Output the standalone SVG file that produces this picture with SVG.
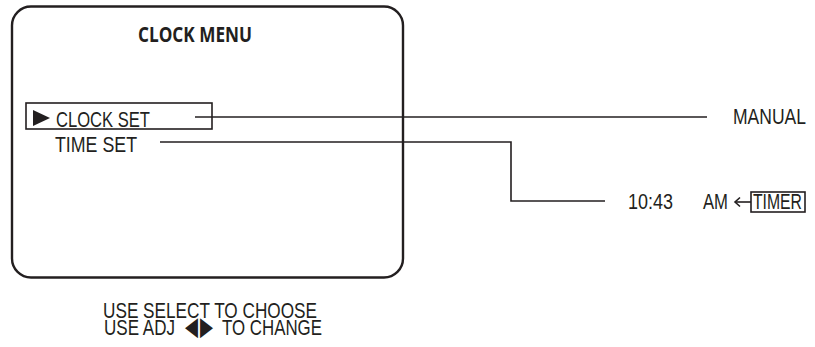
<svg xmlns="http://www.w3.org/2000/svg" width="815" height="347" viewBox="0 0 815 347">
<style>
.t{font-family:"Liberation Sans",Arial,sans-serif;font-size:22px;fill:#231f20}
.b{font-family:"Open Sans","Liberation Sans",sans-serif;font-weight:bold;font-size:20.5px;fill:#231f20}
.g{font-family:"DejaVu Sans",sans-serif;font-size:26px}
.ln{fill:none;stroke:#231f20;stroke-width:1.6}
</style>
<rect width="815" height="347" fill="#fff"/>
<g id="screen">
<rect x="12" y="6.5" width="391" height="271" rx="19" fill="none" stroke="#231f20" stroke-width="2.4"/>
<text class="b" x="138" y="42" textLength="114" lengthAdjust="spacingAndGlyphs">CLOCK MENU</text>
</g>
<g id="clock-set">
<rect x="26" y="103" width="186" height="26" fill="none" stroke="#231f20" stroke-width="1.6"/>
<polygon points="33,110 33,126 50,118" fill="#231f20"/>
<text class="t" x="56" y="126.5" font-size="23" textLength="94" lengthAdjust="spacingAndGlyphs">CLOCK SET</text>
</g>
<g id="time-set">
<text class="t" x="55" y="151.5" font-size="23" textLength="82" lengthAdjust="spacingAndGlyphs">TIME SET</text>
</g>
<g id="manual">
<text class="t" x="733" y="124" font-size="23" textLength="73" lengthAdjust="spacingAndGlyphs">MANUAL</text>
</g>
<g id="time-value">
<text class="t" x="628" y="209" font-size="21" textLength="45" lengthAdjust="spacingAndGlyphs">10:43</text>
<text class="t" x="703" y="209" font-size="21" textLength="25" lengthAdjust="spacingAndGlyphs">AM</text>
<line class="ln" x1="735" y1="202" x2="751" y2="202" stroke-width="1.2"/>
<polyline class="ln" points="740,197.5 735,202 740,206.5" stroke-width="1.2"/>
<rect x="751" y="192" width="54" height="20" fill="none" stroke="#231f20" stroke-width="1.6"/>
<text class="t" x="753" y="209" font-size="21" textLength="49" lengthAdjust="spacingAndGlyphs">TIMER</text>
</g>
<g id="connectors">
<line class="ln" x1="195" y1="117" x2="707" y2="117"/>
<polyline class="ln" points="160,142 511,142 511,201 605,201"/>
</g>
<g id="instructions">
<text class="t" x="103" y="318" textLength="214" lengthAdjust="spacingAndGlyphs">USE SELECT TO CHOOSE</text>
<text class="t" y="335"><tspan x="104" textLength="71" lengthAdjust="spacingAndGlyphs">USE ADJ</tspan> <tspan class="g" x="185" textLength="13" lengthAdjust="spacingAndGlyphs">◀</tspan><tspan class="g" x="200" textLength="13" lengthAdjust="spacingAndGlyphs">▶</tspan> <tspan x="222" textLength="100" lengthAdjust="spacingAndGlyphs">TO CHANGE</tspan></text>
</g>
</svg>
